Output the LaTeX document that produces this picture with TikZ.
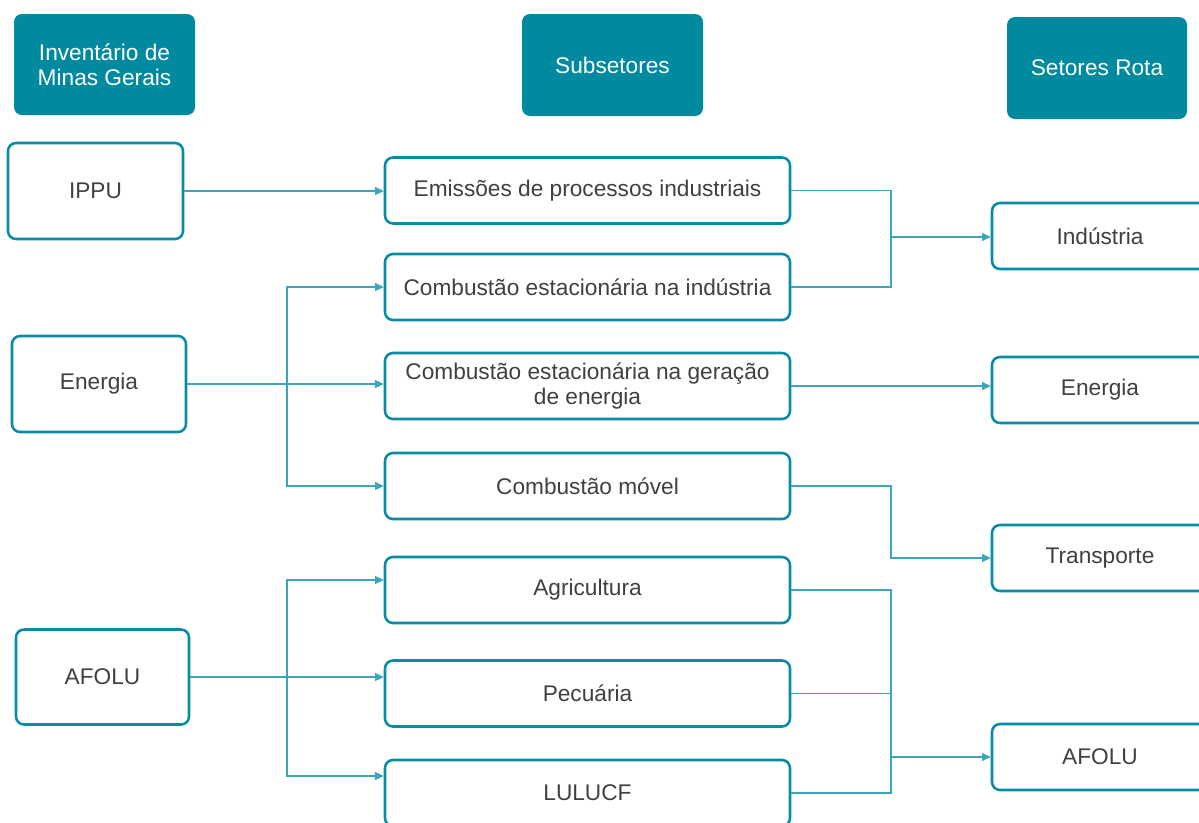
\documentclass[tikz,border=0pt]{standalone}
\usepackage{fontspec}
\setmainfont{Liberation Sans}
\usetikzlibrary{arrows.meta}

\definecolor{headfill}{RGB}{0,138,160}
\definecolor{boxline}{RGB}{8,140,166}
\definecolor{connline}{RGB}{60,165,186}
\definecolor{txtgray}{RGB}{64,64,64}

\tikzset{every picture/.style={line width=0.75pt}}
\tikzset{
  hdr/.style={fill=headfill, rounded corners=6pt, text=white, align=center, inner sep=0pt,
    font=\fontsize{17}{19}\selectfont},
  box/.style={draw=boxline, line width=1.9pt, fill=white, rounded corners=6pt, text=txtgray,
    align=center, inner sep=0pt, font=\fontsize{17}{19}\selectfont},
  midbox/.style={box, minimum width=303.75pt, minimum height=49.5pt},
  rotbox/.style={box, minimum width=162pt, minimum height=49.5pt},
  link/.style={draw=connline, line width=0.9pt},
  conn/.style={link, -{Triangle[length=6.5pt,width=6pt]}},
}

\begin{document}
\begin{tikzpicture}[x=0.75pt,y=0.75pt,yscale=-1,xscale=1]
\useasboundingbox (0,0) rectangle (1199,822);

% Header Nodes
\node[hdr, minimum width=135.75pt, minimum height=75.75pt] (inv) at (104.5,64.5) {Inventário de\\Minas Gerais};
\node[hdr, minimum width=135.75pt, minimum height=76.5pt] (sub) at (612.5,65) {Subsetores};
\node[hdr, minimum width=135pt, minimum height=76.5pt] (rota) at (1097,68) {Setores Rota};

% Inventory Nodes
\node[box, minimum width=131.25pt, minimum height=72pt] (ippu) at (95.5,191) {IPPU};
\node[box, minimum width=130.5pt, minimum height=72pt] (energia) at (99,384) {Energia};
\node[box, minimum width=129.75pt, minimum height=71.25pt] (afolu) at (102.5,677) {AFOLU};

% Subsector Nodes
\node[midbox] (emis) at (587.5,190.5) {Emissões de processos industriais};
\node[midbox] (cind) at (587.5,287) {Combustão estacionária na indústria};
\node[midbox] (cger) at (587.5,386) {Combustão estacionária na geração\\de energia};
\node[midbox] (movel) at (587.5,486) {Combustão móvel};
\node[midbox] (agri) at (587.5,590) {Agricultura};
\node[midbox] (pec) at (587.5,693.5) {Pecuária};
\node[midbox] (lulu) at (587.5,793) {LULUCF};

% Rota Nodes
\node[rotbox] (ind) at (1100,236) {Indústria};
\node[rotbox] (ene) at (1100,390) {Energia};
\node[rotbox] (tra) at (1100,558) {Transporte};
\node[rotbox] (afo) at (1100,757) {AFOLU};

% Bus points
\coordinate (ebus) at (287,386);
\coordinate (abus) at (287,677);
\coordinate (ibus) at (891,237);
\coordinate (tbus) at (891,558);
\coordinate (fbus) at (891,757);

% Left connectors
\draw[conn] (ippu.east) -- (ippu.east -| emis.west);
\draw[conn] (energia.east) -- (energia.east -| cger.west);
\draw[conn] (ebus) |- (cind.west);
\draw[conn] (ebus) |- (movel.west);
\draw[conn] (afolu.east) -- (afolu.east -| pec.west);
\draw[conn] (abus) |- ([yshift=-7.5pt]agri.west);
\draw[conn] (abus) |- ([yshift=-12.75pt]lulu.west);

% Right connectors
\draw[link] (emis.east) -| (ibus) |- (cind.east);
\draw[conn] (ibus) -- (ibus -| ind.west);
\draw[conn] (cger.east) -- (cger.east -| ene.west);
\draw[conn] (movel.east) -| (tbus) -- (tra.west);
\draw[link] (agri.east) -| (fbus) |- (lulu.east);
\draw[link] (pec.east) -- (pec.east -| fbus);
\draw[conn] (fbus) -- (afo.west);

\end{tikzpicture}
\end{document}
